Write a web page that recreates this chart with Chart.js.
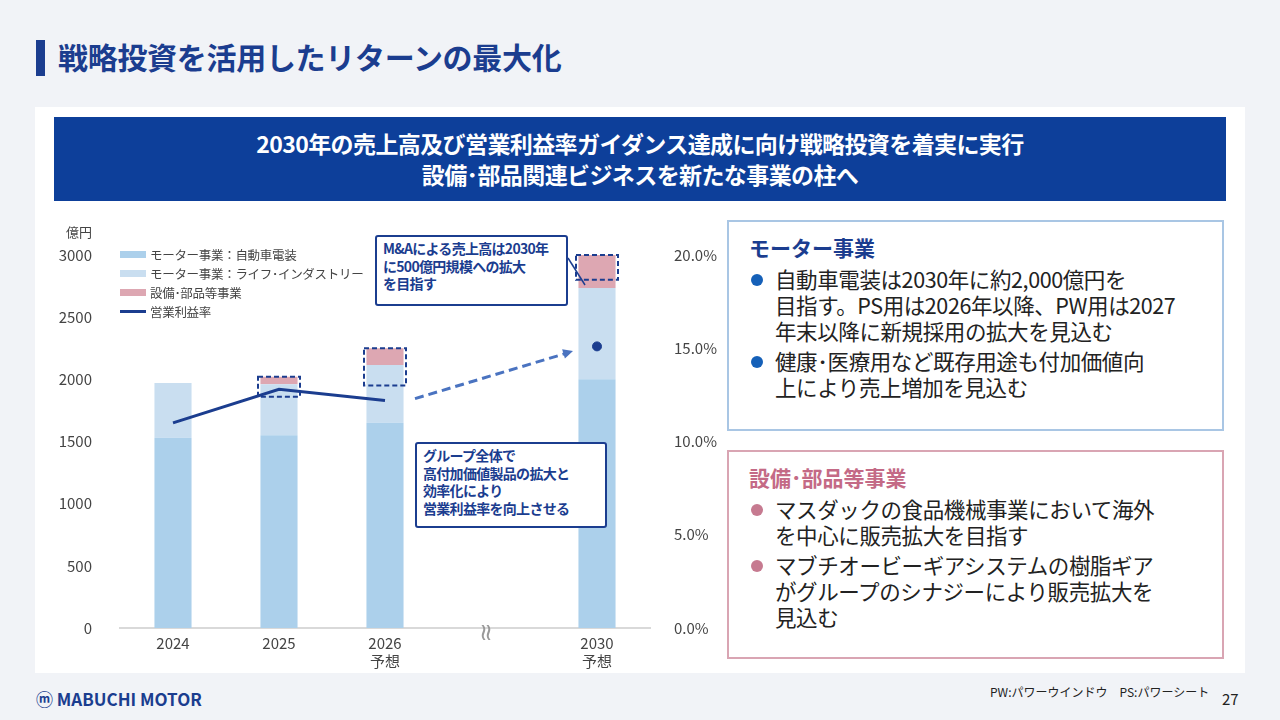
<!DOCTYPE html>
<html>
<head>
<meta charset="utf-8">
<script src="https://cdn.jsdelivr.net/npm/chart.js@4.4.1/dist/chart.umd.min.js"></script>
<style>
  body { margin: 0; width: 1280px; height: 720px; background: #f1f3f7; font-family: "Noto Sans CJK JP", "Noto Sans", sans-serif; position: relative; overflow: hidden; }
  .abs { position: absolute; }
  .title { left: 58px; top: 34px; font-size: 30px; font-weight: bold; color: #1b3d8f; letter-spacing: -0.3px; }
  .tbar { left: 36px; top: 40px; width: 9px; height: 36px; background: #1b3d8f; }
  .panel { left: 35px; top: 107px; width: 1210px; height: 566px; background: #fff; }
  .head { left: 54px; top: 117px; width: 1172px; height: 84px; background: #0d3f9a; color: #fff; font-size: 23px; font-weight: bold; text-align: center; line-height: 31px; padding-top: 11px; box-sizing: border-box; letter-spacing: -0.6px; }
  .box { background: #fff; box-sizing: border-box; padding: 10px 18px; }
  .box h3 { margin: 0 0 4px 2px; font-size: 21px; font-weight: bold; }
  .box ul { margin: 0; padding: 0; list-style: none; }
  .box li { position: relative; padding-left: 28px; font-size: 21.5px; line-height: 26px; color: #222; margin-bottom: 4px; letter-spacing: -0.4px; white-space: nowrap; }
  .box li::before { content: ""; position: absolute; left: 4px; top: 8px; width: 12px; height: 12px; border-radius: 50%; }
  .blue { border: 2px solid #a9c6e4; }
  .blue h3 { color: #1b3d8f; }
  .blue li::before { background: #1560b8; }
  .pink { border: 2px solid #d9a5b3; }
  .pink h3 { color: #c46a86; }
  .pink li::before { background: #c67a90; }
  .call { background: #fff; border: 2px solid #1b3d8f; border-radius: 3px; color: #1b3d8f; font-size: 14px; font-weight: bold; line-height: 17.5px; padding: 3px 6px; box-sizing: border-box; letter-spacing: -0.7px; white-space: nowrap; }
  .leg { left: 120px; font-size: 12.5px; color: #444; display: flex; align-items: center; letter-spacing: -0.3px; }
  .leg i { display: inline-block; width: 26px; height: 7px; margin-right: 4px; }
</style>
</head>
<body>
<div class="abs tbar"></div>
<div class="abs title">戦略投資を活用したリターンの最大化</div>
<div class="abs panel"></div>
<div class="abs head">2030年の売上高及び営業利益率ガイダンス達成に向け戦略投資を着実に実行<br>設備･部品関連ビジネスを新たな事業の柱へ</div>

<div style="position:absolute;left:55px;top:225px;width:665px;height:450px"><canvas id="c"></canvas></div>
<div class="abs" style="left:66px;top:222px;font-size:13px;color:#444">億円</div>
<div class="abs leg" style="top:245px"><i style="background:#acd0eb"></i>モーター事業：自動車電装</div>
<div class="abs leg" style="top:264px"><i style="background:#c9def0"></i>モーター事業：ライフ･インダストリー</div>
<div class="abs leg" style="top:283px"><i style="background:#dda7b2"></i>設備･部品等事業</div>
<div class="abs leg" style="top:302px"><i style="background:#1b3d8f;height:3px"></i>営業利益率</div>
<div class="abs" style="left:484px;top:612px;font-size:24px;color:#999;letter-spacing:-14px">≀≀</div>

<div class="abs call" style="left:375px;top:235px;width:193px;height:71px">M&amp;Aによる売上高は2030年<br>に500億円規模への拡大<br>を目指す</div>
<div class="abs call" style="left:415px;top:442px;width:192px;height:86px">グループ全体で<br>高付加価値製品の拡大と<br>効率化により<br>営業利益率を向上させる</div>

<div class="abs box blue" style="left:727px;top:220px;width:497px;height:211px">
  <h3>モーター事業</h3>
  <ul>
    <li>自動車電装は2030年に約2,000億円を<br>目指す。PS用は2026年以降、PW用は2027<br>年末以降に新規採用の拡大を見込む</li>
    <li>健康･医療用など既存用途も付加価値向<br>上により売上増加を見込む</li>
  </ul>
</div>
<div class="abs box pink" style="left:727px;top:450px;width:497px;height:209px">
  <h3>設備･部品等事業</h3>
  <ul>
    <li>マスダックの食品機械事業において海外<br>を中心に販売拡大を目指す</li>
    <li>マブチオービーギアシステムの樹脂ギア<br>がグループのシナジーにより販売拡大を<br>見込む</li>
  </ul>
</div>

<div class="abs" style="left:36px;top:686px;font-size:17px;font-weight:bold;color:#1b3d8f">ⓜ MABUCHI MOTOR</div>
<div class="abs" style="left:990px;top:683px;font-size:12px;color:#222">PW:パワーウインドウ　PS:パワーシート</div>
<div class="abs" style="left:1222px;top:688px;font-size:15px;color:#222">27</div>

<script>
const categories = [['2024'], ['2025'], ['2026', '予想'], [''], ['2030', '予想']];
const autoSales = [1530, 1550, 1650, null, 2000];
const lifeSales = [440, 410, 465, null, 735];
const equipSales = [0, 60, 135, null, 265];
const opMargin = [11.0, 12.8, 12.2, null, null];
const opMarginTarget = [null, null, null, null, 15.1];
const leftTicks = [0, 500, 1000, 1500, 2000, 2500, 3000];
// dashed highlight ranges [category index, low, high]
const highlights = [[1, 1860, 2020], [2, 1950, 2250], [4, 2800, 3000]];

const overlay = {
  id: 'overlay',
  afterDatasetsDraw(chart) {
    const { ctx, scales: { x, y, y1 } } = chart;
    ctx.save();
    ctx.strokeStyle = '#1b3d8f';
    ctx.lineWidth = 2;
    ctx.setLineDash([5, 3]);
    highlights.forEach(([i, lo, hi]) => {
      const cx = x.getPixelForValue(i);
      ctx.strokeRect(cx - 21, y.getPixelForValue(hi), 42, y.getPixelForValue(lo) - y.getPixelForValue(hi));
    });
    // dashed arrow
    const x0 = x.getPixelForValue(2) + 30, yA = y1.getPixelForValue(12.3);
    const x1 = x.getPixelForValue(4) - 24, yB = y1.getPixelForValue(14.85);
    ctx.strokeStyle = '#4a73c0';
    ctx.lineWidth = 3;
    ctx.setLineDash([9, 5]);
    ctx.beginPath(); ctx.moveTo(x0, yA); ctx.lineTo(x1 - 6, yB + 2); ctx.stroke();
    ctx.setLineDash([]);
    const ang = Math.atan2(yB - yA, x1 - x0);
    ctx.fillStyle = '#4a73c0';
    ctx.beginPath();
    ctx.moveTo(x1, yB);
    ctx.lineTo(x1 - 11 * Math.cos(ang - 0.45), yB - 11 * Math.sin(ang - 0.45));
    ctx.lineTo(x1 - 11 * Math.cos(ang + 0.45), yB - 11 * Math.sin(ang + 0.45));
    ctx.fill();
    // callout pointer
    ctx.strokeStyle = '#1b3d8f';
    ctx.lineWidth = 1.5;
    ctx.beginPath(); ctx.moveTo(568 - 55, 258 - 225); ctx.lineTo(585 - 55, 285 - 225); ctx.stroke();
    ctx.restore();
  }
};

new Chart(document.getElementById('c'), {
  data: {
    labels: categories,
    datasets: [
      { type: 'line', data: opMargin, yAxisID: 'y1', borderColor: '#1b3d8f', borderWidth: 3, pointRadius: 0, spanGaps: false, order: 0 },
      { type: 'line', data: opMarginTarget, yAxisID: 'y1', borderColor: '#1b3d8f', backgroundColor: '#1b3d8f', pointRadius: 4.5, showLine: false, order: 0 },
      { type: 'bar', data: autoSales, backgroundColor: '#acd0eb', stack: 's', order: 1 },
      { type: 'bar', data: lifeSales, backgroundColor: '#c9def0', stack: 's', order: 1 },
      { type: 'bar', data: equipSales, backgroundColor: '#dda7b2', stack: 's', order: 1 }
    ]
  },
  options: {
    responsive: true,
    maintainAspectRatio: false,
    animation: false,
    layout: { padding: { top: 30, right: 0 } },
    plugins: { legend: { display: false }, tooltip: { enabled: false } },
    datasets: { bar: { barPercentage: 0.35, categoryPercentage: 1 } },
    scales: {
      x: {
        stacked: true,
        grid: { display: false, drawTicks: false },
        border: { color: '#d9d9d9', width: 2 },
        ticks: { color: '#444', font: { size: 15, family: 'Noto Sans CJK JP' }, padding: 6, maxRotation: 0 },
        afterFit(s) { s.height = 47; }
      },
      y: {
        stacked: true, min: 0, max: 3000,
        afterBuildTicks(s) { s.ticks = leftTicks.map(v => ({ value: v })); },
        grid: { display: false }, border: { display: false },
        ticks: { color: '#444', font: { size: 15, family: 'Noto Sans CJK JP' }, padding: 20, callback: v => String(v) },
        afterFit(s) { s.width = 65; }
      },
      y1: {
        position: 'right', min: 0, max: 20,
        ticks: { stepSize: 5, color: '#444', font: { size: 15, family: 'Noto Sans CJK JP' }, padding: 16, callback: v => v.toFixed(1) + '%' },
        grid: { display: false }, border: { display: false },
        afterFit(s) { s.width = 70; }
      }
    }
  },
  plugins: [overlay]
});
</script>
</body>
</html>
